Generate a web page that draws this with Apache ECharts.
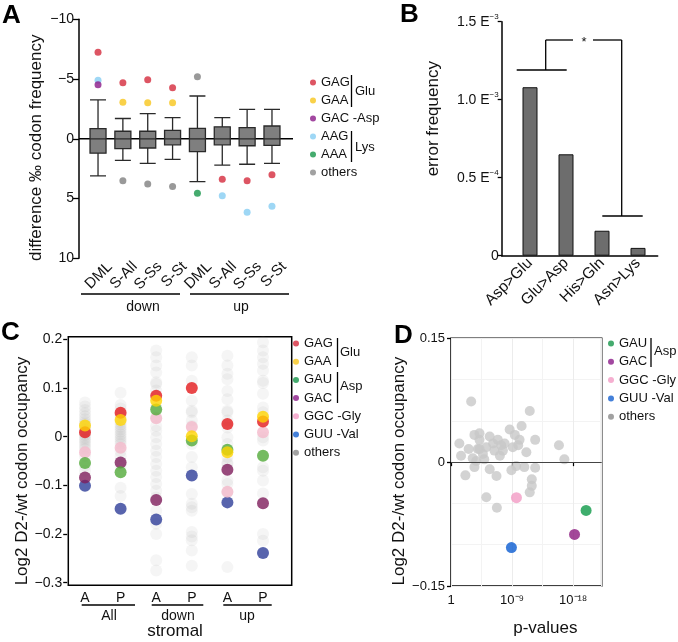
<!DOCTYPE html>
<html><head><meta charset="utf-8">
<script src="https://cdn.jsdelivr.net/npm/echarts@6/dist/echarts.min.js"></script>
<style>html,body{margin:0;padding:0;background:#fff}#c{width:678px;height:642px}</style>
</head><body><div id="c"></div>
<script>
const FONT = "'Liberation Sans', Arial, Helvetica, sans-serif";

// ---------- Panel A ----------
const catsA = ['DML', 'S-All', 'S-Ss', 'S-St', 'DML', 'S-All', 'S-Ss', 'S-St'];
const groupsA = ['down', 'up'];
// [min, Q1, median, Q3, max]
const boxA = [
  [-3.25, -0.85, 0, 1.2, 3.1],
  [-1.7, -0.63, 0, 0.83, 1.8],
  [-2.1, -0.63, 0, 0.77, 2.05],
  [-1.77, -0.7, 0, 0.5, 1.72],
  [-3.58, -0.88, 0, 1.08, 3.58],
  [-1.77, -1.0, 0, 0.5, 2.2],
  [-2.47, -0.93, 0, 0.58, 2.13],
  [-2.47, -1.07, 0, 0.55, 2.05]
];
const gagA = [[0, -7.24], [1, -4.7], [2, -4.95], [3, -4.28], [5, 3.39], [6, 3.5], [7, 3.0]];
const gaaA = [[1, -3.05], [2, -3.02], [3, -3.02]];
const aagA = [[0, -4.9], [5, 4.76], [6, 6.15], [7, 5.65]];
const gacA = [[0, -4.53]];
const aaaA = [[4, 4.56]];
const othA = [[1, 3.5], [2, 3.78], [3, 4.0], [4, -5.2]];
const zeroLineA = [[0, 0], [1, 0]];

// ---------- Panel B ----------
const catsB = ['Asp>Glu', 'Glu>Asp', 'His>Gln', 'Asn>Lys'];
const valsB = [1.08, 0.65, 0.16, 0.05];
const expB = {0.5: '−4', 1: '−3', 1.5: '−3'};

// ---------- Panel C ----------
const catsC = ['A', 'P', 'A', 'P', 'A', 'P'];
const groupsC = ['All', 'down', 'up'];
const gagC = [0.009, 0.049, 0.084, 0.100, 0.026, 0.031];
const gaaC = [0.023, 0.034, 0.074, 0.001, -0.032, 0.041];
const gauC = [-0.054, -0.073, 0.056, -0.008, -0.027, -0.039];
const gacC = [-0.084, -0.053, -0.130, null, -0.068, -0.137];
const ggcC = [-0.032, -0.023, 0.038, 0.020, -0.113, 0.009];
const guuC = [-0.101, -0.148, -0.170, -0.080, -0.135, -0.239];
const othC = [
  [0.07, 0.062, 0.055, 0.048, 0.042, 0.036, 0.03, 0.026, 0.02, 0.015, 0.012, 0.006, 0.003, -0.002, -0.006, -0.01, -0.015, -0.02, -0.025, -0.04, -0.06, -0.07],
  [0.09, 0.065, 0.058, 0.045, 0.04, 0.03, 0.025, 0.02, 0.015, 0.01, 0.005, 0.0, -0.005, -0.01, -0.015, -0.03, -0.04, -0.06, -0.105, -0.122],
  [0.177, 0.163, 0.146, 0.132, 0.112, 0.108, 0.095, 0.06, 0.04, 0.022, 0.012, -0.001, -0.015, -0.029, -0.042, -0.056, -0.07, -0.083, -0.097, -0.111, -0.125, -0.152, -0.179, -0.2, -0.254, -0.275],
  [0.163, 0.146, 0.115, 0.074, 0.053, 0.05, 0.033, 0.022, -0.015, -0.042, -0.063, -0.118, -0.138, -0.145, -0.152, -0.196, -0.205, -0.213, -0.234, -0.265],
  [0.166, 0.146, 0.129, 0.118, 0.094, 0.077, 0.053, 0.05, 0.033, 0.019, -0.001, -0.015, -0.042, -0.053, -0.056, -0.09, -0.097, -0.114, -0.268],
  [0.194, 0.177, 0.163, 0.15, 0.136, 0.115, 0.11, 0.088, 0.06, 0.05, -0.001, -0.008, -0.063, -0.07, -0.09, -0.117, -0.2, -0.214]
];

// ---------- Panel D ----------
const dTicks = {0: '1', 9: '10⁻⁹', 18: '10⁻¹⁸'};
const gauD = [[19.9, -0.0585]];
const gacD = [[18.2, -0.0876]];
const ggcD = [[9.64, -0.043]];
const guuD = [[8.9, -0.1035]];
const othD = [[2.97, 0.0735], [11.6, 0.062], [1.23, 0.0226], [1.48, 0.0077], [2.6, 0.016], [3.45, 0.033], [4.2, 0.027], [3.95, 0.016], [3.7, 0.0013], [3.45, -0.006], [2.12, -0.016], [4.7, 0.0098], [5.2, 0.018], [5.7, 0.031], [6.2, 0.0226], [6.4, 0.014], [6.9, 0.027], [7.4, 0.0204], [7.9, 0.0226], [7.2, 0.0077], [5.7, -0.0087], [6.7, -0.0167], [5.2, -0.0425], [6.76, -0.0553], [8.64, 0.0395], [9.4, 0.033], [10.1, 0.027], [10.4, 0.0438], [9.9, 0.0204], [11.1, 0.012], [12.4, 0.027], [8.9, -0.0099], [9.6, -0.0048], [10.8, -0.006], [11.9, -0.0207], [11.9, -0.0287], [11.6, -0.0366], [12.4, -0.0067], [15.9, 0.0204], [16.7, 0.0034], [4.2, 0.035], [4.9, 0.0034], [3.2, 0.0047], [7.65, 0.014], [9.1, 0.018], [4.2, 0.016]];

// ---------- colours ----------
const colA = {GAG: '#d42a3c', GAA: '#f8c51c', GAC: '#8b1a88', AAG: '#86cdf2', AAA: '#17964a', oth: '#7f7f7f'};
const colC = {GAG: '#e3191c', GAA: '#ffd500', GAU: '#52aa3a', GAC: '#7e1d5b', GGC: '#f4b9ca', GUU: '#2e3d98', oth: 'rgba(150,150,150,0.12)'};
const colD = {GAU: '#0f9a48', GAC: '#8c1a80', GGC: '#f29bc4', GUU: '#0a5bd1', oth: '#c8c8c8'};
const legCol = {GAG: '#d42a3c', GAA: '#f8c51c', GAU: '#17964a', GAC: '#8b1a88', GGC: '#f29bc4', GUU: '#1560d0', AAG: '#86cdf2', AAA: '#17964a', oth: '#8a8a8a'};

const minus = s => String(s).replace('-', '−');
const colData = arr => arr.map((v, i) => v === null ? null : [i, v]).filter(d => d);
const othCData = [];
othC.forEach((col, i) => col.forEach(v => othCData.push([i, v])));

const txt = {fontFamily: FONT, color: '#111'};
const axisLineBlk = {show: true, lineStyle: {color: '#000', width: 1.5}};
const tickBlk = {show: true, length: 5, lineStyle: {color: '#000', width: 1.3}};

const grids = [
  {left: 79, top: 19.3, width: 214, height: 239},          // 0 A axes
  {left: 85.6, top: 19.3, width: 198.8, height: 239},      // 1 A data
  {left: 97.6, top: 19.3, width: 198.8, height: 239},      // 2 A labels
  {left: 501.7, top: 21.7, width: 156, height: 234},       // 3 B axes
  {left: 512, top: 21.7, width: 144, height: 234},         // 4 B data
  {left: 68.3, top: 336.7, width: 223.4, height: 248.6, show: true, borderColor: '#000', borderWidth: 1.5}, // 5 C frame
  {left: 67.2, top: 339.3, width: 213.6, height: 243.4},   // 6 C data
  {left: 451, top: 338.3, width: 150.7, height: 247.7, show: true, borderColor: '#000', borderWidth: 1.5}  // 7 D
].map(g => Object.assign({containLabel: false, outerBoundsMode: 'none'}, g));

const hiddenVal = (gi, min, max, inverse) => ({gridIndex: gi, type: 'value', min, max, inverse: !!inverse, show: false});
const legText = {fontSize: 13, fontFamily: FONT, color: '#111', lineHeight: 13};

const option = {
  animation: false,
  backgroundColor: '#fff',
  textStyle: {fontFamily: FONT},
  title: [
    {text: 'A', left: 2, top: 3, padding: 0, textStyle: {fontSize: 26, fontWeight: 'bold', fontFamily: FONT, color: '#000'}},
    {text: 'B', left: 400, top: 2, padding: 0, textStyle: {fontSize: 26, fontWeight: 'bold', fontFamily: FONT, color: '#000'}},
    {text: 'C', left: 1, top: 320, padding: 0, textStyle: {fontSize: 26, fontWeight: 'bold', fontFamily: FONT, color: '#000'}},
    {text: 'D', left: 394, top: 323, padding: 0, textStyle: {fontSize: 26, fontWeight: 'bold', fontFamily: FONT, color: '#000'}}
  ],
  grid: grids,
  xAxis: [
    hiddenVal(0, 0, 1),
    {gridIndex: 1, type: 'category', data: catsA, show: false},
    {gridIndex: 2, type: 'category', data: catsA, axisLine: {show: false}, axisTick: {show: false},
      axisLabel: Object.assign({rotate: 45, margin: 6, fontSize: 15, interval: 0}, txt)},
    {gridIndex: 3, type: 'value', min: 0, max: 1, axisLine: axisLineBlk, axisTick: {show: false}, axisLabel: {show: false}, splitLine: {show: false}},
    {gridIndex: 4, type: 'category', data: catsB, axisLine: {show: false}, axisTick: {show: false},
      axisLabel: Object.assign({rotate: 45, margin: 5, fontSize: 15.5, interval: 0}, txt)},
    hiddenVal(5, 0, 1),
    {gridIndex: 6, type: 'category', data: catsC, axisLine: {show: false}, axisTick: {show: false},
      axisLabel: Object.assign({margin: 8, fontSize: 14, interval: 0}, txt)},
    {gridIndex: 7, type: 'value', min: 0, max: 22.2, interval: 9,
      axisLine: {show: false}, axisTick: {show: true, length: 4, lineStyle: {color: '#000', width: 1.2}},
      minorTick: {show: false, splitNumber: 2},
      axisLabel: Object.assign({margin: 8, fontSize: 13, showMaxLabel: false, formatter: v => dTicks[v] !== undefined ? dTicks[v] : ''}, txt),
      splitLine: {show: true, lineStyle: {color: '#ececec', width: 1}},
      minorSplitLine: {show: true, lineStyle: {color: '#f3f3f3', width: 1}},
      name: 'p-values', nameLocation: 'middle', nameGap: 34,
      nameTextStyle: {fontSize: 17, fontFamily: FONT, color: '#111', padding: [0, 0, 0, 38]}}
  ],
  yAxis: [
    {gridIndex: 0, type: 'value', min: -10, max: 10, interval: 5, inverse: true,
      axisLine: axisLineBlk, axisTick: Object.assign({}, tickBlk, {length: 6}),
      axisLabel: Object.assign({fontSize: 14, margin: 5, formatter: v => minus(v)}, txt),
      splitLine: {show: false},
      name: 'difference ‰ codon frequency', nameLocation: 'middle', nameRotate: 90, nameGap: 34,
      nameTextStyle: {fontSize: 17, fontFamily: FONT, color: '#111', padding: [0, 18, 0, 0]}},
    hiddenVal(1, -10, 10, true),
    hiddenVal(2, -10, 10, true),
    {gridIndex: 3, type: 'value', min: 0, max: 1.5, interval: 0.5,
      axisLine: axisLineBlk, axisTick: Object.assign({}, tickBlk, {length: 4}),
      axisLabel: Object.assign({fontSize: 14, margin: 3,
        formatter: v => v === 0 ? '0' : '{a|' + v.toFixed(1) + ' E}{s|' + expB[v] + '}',
        rich: {a: {fontSize: 14, fontFamily: FONT, color: '#111'}, s: {fontSize: 8, fontFamily: FONT, color: '#111', padding: [0, 0, 10, 0]}}}, txt),
      splitLine: {show: false},
      name: 'error frequency', nameLocation: 'middle', nameRotate: 90, nameGap: 60,
      nameTextStyle: {fontSize: 17, fontFamily: FONT, color: '#111', padding: [0, 0, 0, 40]}},
    hiddenVal(4, 0, 1.5),
    hiddenVal(5, 0, 1),
    {gridIndex: 6, type: 'value', min: -0.3, max: 0.2, interval: 0.1,
      axisLine: {show: false}, axisTick: Object.assign({}, tickBlk, {length: 4}),
      axisLabel: Object.assign({fontSize: 14, margin: 5, formatter: v => v === 0 ? '0' : minus((Math.round(v * 10) / 10).toFixed(1))}, txt),
      splitLine: {show: false},
      name: 'Log2 D2-/wt codon occupancy', nameLocation: 'middle', nameRotate: 90, nameGap: 27,
      nameTextStyle: {fontSize: 17, fontFamily: FONT, color: '#111', padding: [0, 20, 0, 0]}},
    {gridIndex: 7, type: 'value', min: -0.15, max: 0.15, interval: 0.15,
      axisLine: {show: false}, axisTick: Object.assign({}, tickBlk, {length: 4}),
      minorTick: {show: false, splitNumber: 3},
      axisLabel: Object.assign({fontSize: 13, margin: 6, formatter: v => Math.abs(v) < 1e-9 ? '0' : minus(v.toFixed(2))}, txt),
      splitLine: {show: true, lineStyle: {color: '#ececec', width: 1}},
      minorSplitLine: {show: true, lineStyle: {color: '#f3f3f3', width: 1}},
      name: 'Log2 D2-/wt codon occupancy', nameLocation: 'middle', nameRotate: 90, nameGap: 36,
      nameTextStyle: {fontSize: 17, fontFamily: FONT, color: '#111', padding: [0, 18, 0, 0]}}
  ],
  legend: [
    {left: 310, top: 76, orient: 'vertical', padding: 0, itemGap: 5, itemWidth: 6, itemHeight: 6, icon: 'circle', selectedMode: false,
      textStyle: legText,
      data: [
        {name: 'GAG', itemStyle: {color: legCol.GAG}}, {name: 'GAA', itemStyle: {color: legCol.GAA}},
        {name: 'GAC -Asp', itemStyle: {color: legCol.GAC}}, {name: 'AAG', itemStyle: {color: legCol.AAG}},
        {name: 'AAA', itemStyle: {color: legCol.AAA}}, {name: 'others', itemStyle: {color: legCol.oth}}]},
    {left: 293, top: 337, orient: 'vertical', padding: 0, itemGap: 5.2, itemWidth: 6, itemHeight: 6, icon: 'circle', selectedMode: false,
      textStyle: legText,
      data: [
        {name: 'GAG', itemStyle: {color: legCol.GAG}}, {name: 'GAA', itemStyle: {color: legCol.GAA}},
        {name: 'GAU', itemStyle: {color: legCol.GAU}}, {name: 'GAC', itemStyle: {color: legCol.GAC}},
        {name: 'GGC -Gly', itemStyle: {color: legCol.GGC}}, {name: 'GUU -Val', itemStyle: {color: legCol.GUU}},
        {name: 'others', itemStyle: {color: legCol.oth}}]},
    {left: 608, top: 337, orient: 'vertical', padding: 0, itemGap: 5.3, itemWidth: 6, itemHeight: 6, icon: 'circle', selectedMode: false,
      textStyle: legText,
      data: [
        {name: 'GAU', itemStyle: {color: legCol.GAU}}, {name: 'GAC', itemStyle: {color: legCol.GAC}},
        {name: 'GGC -Gly', itemStyle: {color: legCol.GGC}}, {name: 'GUU -Val', itemStyle: {color: legCol.GUU}},
        {name: 'others', itemStyle: {color: legCol.oth}}]}
  ],
  series: [
    // A
    {type: 'line', name: 'zeroA', xAxisIndex: 0, yAxisIndex: 0, data: zeroLineA, symbol: 'none', silent: true, z: 1,
      lineStyle: {color: '#000', width: 1.5}},
    {type: 'boxplot', name: 'boxA', xAxisIndex: 1, yAxisIndex: 1, data: boxA, boxWidth: [16, 16], z: 3,
      itemStyle: {color: '#7f7f7f', borderColor: '#2a2a2a', borderWidth: 1.3}},
    {type: 'scatter', name: 'others', xAxisIndex: 1, yAxisIndex: 1, data: othA, symbolSize: 7, z: 4, itemStyle: {color: colA.oth}},
    {type: 'scatter', name: 'AAG', xAxisIndex: 1, yAxisIndex: 1, data: aagA, symbolSize: 7, z: 4, itemStyle: {color: colA.AAG}},
    {type: 'scatter', name: 'GAC -Asp', xAxisIndex: 1, yAxisIndex: 1, data: gacA, symbolSize: 7, z: 4, itemStyle: {color: colA.GAC}},
    {type: 'scatter', name: 'AAA', xAxisIndex: 1, yAxisIndex: 1, data: aaaA, symbolSize: 7, z: 4, itemStyle: {color: colA.AAA}},
    {type: 'scatter', name: 'GAA', xAxisIndex: 1, yAxisIndex: 1, data: gaaA, symbolSize: 7, z: 4, itemStyle: {color: colA.GAA}},
    {type: 'scatter', name: 'GAG', xAxisIndex: 1, yAxisIndex: 1, data: gagA, symbolSize: 7, z: 4, itemStyle: {color: colA.GAG}},
    // B
    {type: 'bar', name: 'errB', xAxisIndex: 4, yAxisIndex: 4, data: valsB, barWidth: 15,
      itemStyle: {color: '#6d6d6d', borderColor: '#111', borderWidth: 1}},
    // C
    {type: 'scatter', name: 'others', xAxisIndex: 6, yAxisIndex: 6, data: othCData, symbolSize: 12, itemStyle: {color: colC.oth}},
    {type: 'scatter', name: 'GUU -Val', xAxisIndex: 6, yAxisIndex: 6, data: colData(guuC), symbolSize: 12, itemStyle: {color: colC.GUU}},
    {type: 'scatter', name: 'GAC', xAxisIndex: 6, yAxisIndex: 6, data: colData(gacC), symbolSize: 12, itemStyle: {color: colC.GAC}},
    {type: 'scatter', name: 'GGC -Gly', xAxisIndex: 6, yAxisIndex: 6, data: colData(ggcC), symbolSize: 12, itemStyle: {color: colC.GGC}},
    {type: 'scatter', name: 'GAU', xAxisIndex: 6, yAxisIndex: 6, data: colData(gauC), symbolSize: 12, itemStyle: {color: colC.GAU}},
    {type: 'scatter', name: 'GAG', xAxisIndex: 6, yAxisIndex: 6, data: colData(gagC), symbolSize: 12, itemStyle: {color: colC.GAG}},
    {type: 'scatter', name: 'GAA', xAxisIndex: 6, yAxisIndex: 6, data: colData(gaaC), symbolSize: 12, itemStyle: {color: colC.GAA}},
    // D
    {type: 'scatter', name: 'others', xAxisIndex: 7, yAxisIndex: 7, data: othD, symbolSize: 10, itemStyle: {color: colD.oth},
      markLine: {silent: true, symbol: 'none', label: {show: false}, lineStyle: {color: '#444', width: 1.2, type: 'solid'}, data: [{yAxis: 0}]}},
    {type: 'scatter', name: 'GGC -Gly', xAxisIndex: 7, yAxisIndex: 7, data: ggcD, symbolSize: 11, itemStyle: {color: colD.GGC}},
    {type: 'scatter', name: 'GUU -Val', xAxisIndex: 7, yAxisIndex: 7, data: guuD, symbolSize: 11, itemStyle: {color: colD.GUU}},
    {type: 'scatter', name: 'GAC', xAxisIndex: 7, yAxisIndex: 7, data: gacD, symbolSize: 11, itemStyle: {color: colD.GAC}},
    {type: 'scatter', name: 'GAU', xAxisIndex: 7, yAxisIndex: 7, data: gauD, symbolSize: 11, itemStyle: {color: colD.GAU}}
  ]
};

// annotation lines / texts (brackets, group underlines)
const L = (x1, y1, x2, y2, w) => ({type: 'line', silent: true, shape: {x1, y1, x2, y2}, style: {stroke: '#000', lineWidth: w || 1.3}});
const T = (text, x, y, size, align) => ({type: 'text', silent: true, x, y,
  style: {text, fill: '#111', font: (size || 14) + 'px ' + FONT, align: align || 'center', verticalAlign: 'middle', textAlign: align || 'center', textVerticalAlign: 'middle'}});
option.graphic = [
  // A group underlines
  L(81, 294, 180, 294), L(190, 294, 289, 294),
  T(groupsA[0], 143, 307), T(groupsA[1], 241, 307),
  // A legend brackets
  L(351.5, 75, 351.5, 107), T('Glu', 355, 91, 13, 'left'),
  L(351.5, 131, 351.5, 162), T('Lys', 355, 147, 13, 'left'),
  // B significance bracket
  L(516.7, 70, 566.7, 70), L(545.7, 70, 545.7, 40), L(545.7, 40, 573, 40), L(593, 40, 621.7, 40),
  L(621.7, 40, 621.7, 216), L(602.3, 216, 642.7, 216), T('*', 584, 42, 13),
  // C group underlines
  L(81.7, 605, 135, 605), L(151.7, 605, 203.3, 605), L(223.3, 605, 271.7, 605),
  T(groupsC[0], 109, 616), T(groupsC[1], 178, 616), T(groupsC[2], 247, 616),
  T('stromal', 175, 631, 17),
  // C legend brackets
  L(337.5, 338, 337.5, 367), T('Glu', 340, 352, 13, 'left'),
  L(337.5, 372, 337.5, 403), T('Asp', 340, 386, 13, 'left'),
  // D legend bracket
  L(651, 338, 651, 367), T('Asp', 654, 351, 13, 'left')
];

const chart = echarts.init(document.getElementById('c'), null, {renderer: 'canvas'});
chart.setOption(option);
</script>
</body></html>
